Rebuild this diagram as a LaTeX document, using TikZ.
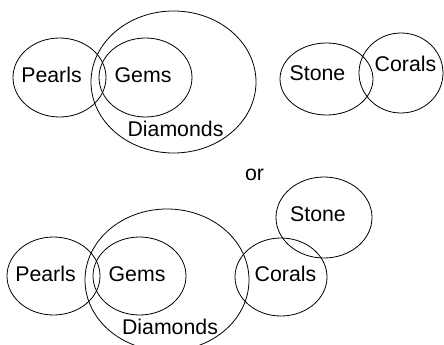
\documentclass[tikz,border=0pt]{standalone}
\usepackage{fontspec}
\setmainfont{Liberation Sans}
\usetikzlibrary{shapes.geometric}
\begin{document}
\begin{tikzpicture}[x=1pt,y=-1pt,
  setell/.style={draw, ellipse, line width=0.8pt, inner sep=0pt},
  lbl/.style={font=\fontsize{21.3}{25}\selectfont, inner sep=0pt}]
\useasboundingbox (0,0) rectangle (444,345);
% top row
\node[setell, minimum width=93pt, minimum height=79pt] (p1) at (59.5,77.5) {};
\node[setell, minimum width=93pt, minimum height=79pt] (g1) at (145.5,77.5) {};
\node[setell, minimum width=165pt, minimum height=142pt] (d1) at (173.5,82) {};
\node[setell, minimum width=93pt, minimum height=72pt] (s1) at (326.5,79) {};
\node[setell, minimum width=84pt, minimum height=80pt] (c1) at (401,73) {};
\node[lbl] (tp1) at (51.5,75) {Pearls};
\node[lbl] (tg1) at (143,75) {Gems};
\node[lbl] (td1) at (175.5,129) {Diamonds};
\node[lbl] (ts1) at (317.5,73) {Stone};
\node[lbl] (tc1) at (405.5,64) {Corals};
% or
\node[lbl] (or) at (254.5,175) {or};
% bottom row
\node[setell, minimum width=93pt, minimum height=78pt] (p2) at (53.5,276) {};
\node[setell, minimum width=93pt, minimum height=78pt] (g2) at (139.5,276) {};
\node[setell, minimum width=164pt, minimum height=142pt] (d2) at (167,280) {};
\node[setell, minimum width=92pt, minimum height=78pt] (c2) at (281,277) {};
\node[setell, minimum width=96pt, minimum height=81pt] (s2) at (324,217.5) {};
\node[lbl] (tp2) at (45.5,274) {Pearls};
\node[lbl] (tg2) at (137,274) {Gems};
\node[lbl] (td2) at (170,327) {Diamonds};
\node[lbl] (tc2) at (285.5,274) {Corals};
\node[lbl] (ts2) at (318,214) {Stone};
\end{tikzpicture}
\end{document}
